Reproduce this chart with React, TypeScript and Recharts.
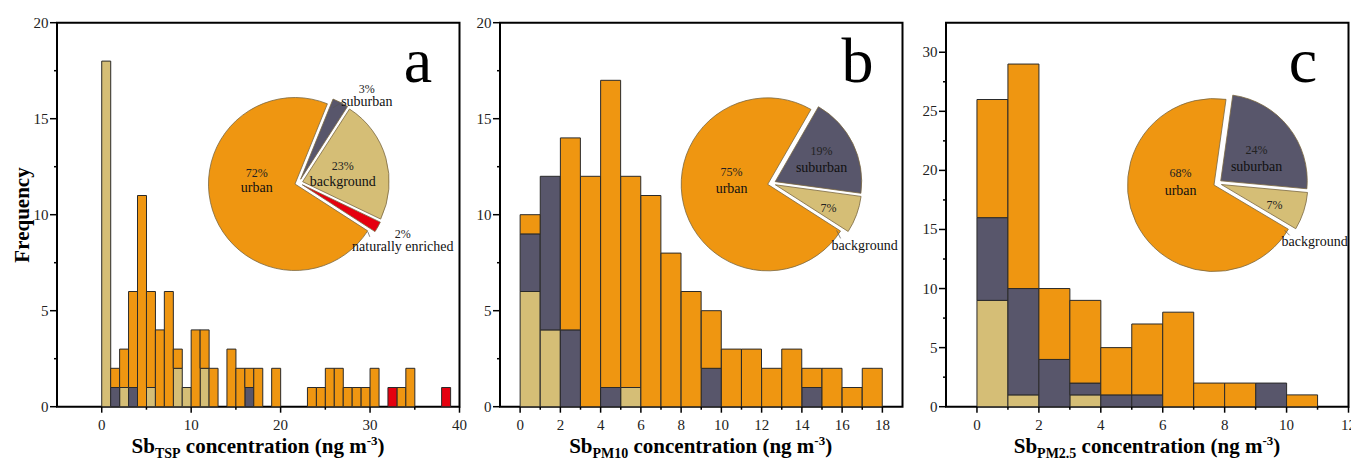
import React from "react";
import { BarChart, Bar, XAxis, YAxis, ReferenceArea, PieChart, Pie, Cell } from "recharts";

const FONT = "Liberation Serif, Times New Roman, DejaVu Serif, serif";

const COLORS: Record<string, string> = {
  background: "#D5BE76",
  suburban: "#58566B",
  urban: "#EF9611",
  "naturally enriched": "#E5000F",
};

// ---- panel a: Sb TSP (bin width 1 ng m-3), stacked visible segment counts
const binsA = [0, 1, 2, 3, 4, 5, 6, 7, 8, 9, 10, 11, 12, 13, 14, 15, 16, 17, 18, 19, 20, 21, 22, 23, 24, 25, 26, 27, 28, 29, 30, 31, 32, 33, 34, 35, 36, 37, 38, 39];
const bgA = [18, 0, 1, 0, 0, 1, 0, 0, 2, 1, 0, 2, 0, 0, 0, 0, 0, 0, 0, 0, 0, 0, 0, 0, 0, 0, 0, 0, 0, 0, 0, 0, 0, 0, 0, 0, 0, 0, 0, 0];
const subA = [0, 1, 0, 1, 0, 0, 0, 0, 0, 0, 0, 0, 0, 0, 0, 0, 1, 0, 0, 0, 0, 0, 0, 0, 0, 0, 0, 0, 0, 0, 0, 0, 0, 0, 0, 0, 0, 0, 0, 0];
const urbA = [0, 1, 2, 5, 11, 5, 4, 6, 1, 0, 4, 2, 2, 0, 3, 2, 1, 2, 0, 2, 0, 0, 0, 1, 1, 2, 2, 1, 1, 1, 2, 0, 0, 1, 2, 0, 0, 0, 0, 0];
const natA = [0, 0, 0, 0, 0, 0, 0, 0, 0, 0, 0, 0, 0, 0, 0, 0, 0, 0, 0, 0, 0, 0, 0, 0, 0, 0, 0, 0, 0, 0, 0, 0, 1, 0, 0, 0, 0, 0, 1, 0];

// ---- panel b: Sb PM10
const binsB = [0, 1, 2, 3, 4, 5, 6, 7, 8, 9, 10, 11, 12, 13, 14, 15, 16, 17];
const bgB = [6, 4, 0, 0, 0, 1, 0, 0, 0, 0, 0, 0, 0, 0, 0, 0, 0, 0];
const subB = [3, 8, 4, 0, 1, 0, 0, 0, 0, 2, 0, 0, 0, 0, 1, 0, 0, 0];
const urbB = [1, 0, 10, 12, 16, 11, 11, 8, 6, 3, 3, 3, 2, 3, 1, 2, 1, 2];

// ---- panel c: Sb PM2.5
const binsC = [0, 1, 2, 3, 4, 5, 6, 7, 8, 9, 10];
const bgC = [9, 1, 0, 1, 0, 0, 0, 0, 0, 0, 0];
const subC = [7, 9, 4, 1, 1, 1, 0, 0, 0, 2, 0];
const urbC = [10, 19, 6, 7, 4, 6, 8, 2, 2, 0, 1];

// pie shares (%), clockwise from the first slice
const pieNamesA = ["suburban", "background", "naturally enriched", "urban"];
const pieValuesA = [3, 23, 2, 72];
const pieNamesB = ["suburban", "background", "urban"];
const pieValuesB = [19, 7, 75];
const pieNamesC = ["suburban", "background", "urban"];
const pieValuesC = [24, 7, 68];

const tableA = binsA.map((b, i) => ({ x: b + 0.5, background: bgA[i], suburban: subA[i], urban: urbA[i], natural: natA[i] }));
const tableB = binsB.map((b, i) => ({ x: b + 0.5, background: bgB[i], suburban: subB[i], urban: urbB[i], natural: 0 }));
const tableC = binsC.map((b, i) => ({ x: b + 0.5, background: bgC[i], suburban: subC[i], urban: urbC[i], natural: 0 }));

const STACK = [
  { key: "background", color: COLORS.background },
  { key: "suburban", color: COLORS.suburban },
  { key: "urban", color: COLORS.urban },
  { key: "natural", color: COLORS["naturally enriched"] },
];

const PLOT_W = 402.5;
const PLOT_TOP = 22.7;
const PLOT_BOTTOM = 406.7;

function XTick(props: any) {
  const { x, y, payload, major } = props;
  const isMajor = major.includes(payload.value);
  return (
    <g>
      <line x1={x} x2={x} y1={y} y2={y + (isMajor ? 6 : 3)} stroke="#000" strokeWidth={1.5} />
      {isMajor && (
        <text x={x} y={y + 18} textAnchor="middle" dominantBaseline="central" style={{ fontFamily: FONT, fontSize: 15 }} fill="#222">
          {payload.value}
        </text>
      )}
    </g>
  );
}

function YTick(props: any) {
  const { x, y, payload, major } = props;
  const isMajor = major.includes(payload.value);
  return (
    <g>
      <line x1={x} x2={x - (isMajor ? 7 : 3)} y1={y} y2={y} stroke="#000" strokeWidth={1.5} />
      {isMajor && (
        <text x={x - 8.5} y={y} textAnchor="end" dominantBaseline="central" style={{ fontFamily: FONT, fontSize: 15 }} fill="#222">
          {payload.value}
        </text>
      )}
    </g>
  );
}

function Histogram({ plotLeft, data, xDomain, xTicks, xMinor, yDomain, yTicks, yMinor }: any) {
  return (
    <div style={{ position: "absolute", left: plotLeft - 50, top: 0 }}>
      <BarChart
        width={50 + PLOT_W + 12}
        height={464}
        data={data}
        margin={{ top: PLOT_TOP, right: 12, bottom: 464 - PLOT_BOTTOM - 30, left: 10 }}
        barCategoryGap={0}
        barGap={0}
      >
        <XAxis
          type="number"
          dataKey="x"
          domain={xDomain}
          ticks={[...xTicks, ...xMinor]}
          interval={0}
          allowDataOverflow
          axisLine={false}
          tickLine={false}
          tickSize={0}
          tickMargin={0}
          height={30}
          tick={<XTick major={xTicks} />}
        />
        <YAxis
          type="number"
          domain={yDomain}
          ticks={[...yTicks, ...yMinor]}
          interval={0}
          allowDataOverflow
          axisLine={false}
          tickLine={false}
          tickSize={0}
          tickMargin={0}
          width={40}
          tick={<YTick major={yTicks} />}
        />
        {STACK.map((s) => (
          <Bar key={s.key} dataKey={s.key} stackId="h" fill={s.color} stroke="#2a2a2a" strokeWidth={1} isAnimationActive={false} />
        ))}
        <ReferenceArea
          x1={xDomain[0]}
          x2={xDomain[1]}
          y1={yDomain[0]}
          y2={yDomain[1]}
          fill="none"
          fillOpacity={0}
          stroke="#000"
          strokeWidth={2}
          ifOverflow="visible"
        />
      </BarChart>
    </div>
  );
}

// label offsets relative to each pie's centre
const LABELS_A: Record<string, any> = {
  urban: { pct: [-42, -10], name: [-42, 5] },
  background: { pct: [44, -17], name: [44, -1] },
  suburban: { pct: [68, -94], name: [68, -81], line: [34, -75, 44, -81] },
  "naturally enriched": { pct: [104, 51], name: [104, 64], line: [69, 49, 71, 54] },
};
const LABELS_B: Record<string, any> = {
  urban: { pct: [-40, -11], name: [-40, 5] },
  suburban: { pct: [50, -32], name: [50, -16] },
  background: { pct: [57, 25], name: [93, 62], line: [65, 47, 69, 55] },
};
const LABELS_C: Record<string, any> = {
  urban: { pct: [-37, -10], name: [-37, 7] },
  suburban: { pct: [39, -33], name: [39, -17] },
  background: { pct: [57, 22], name: [97, 58], line: [67, 47, 72, 52] },
};

const EXPLODE = 4;
const RADIUS = 86.5;

function pieSlices(id: string, names: string[], values: number[], cx: number, cy: number, start: number, labels: Record<string, any>) {
  const total = values.reduce((a, b) => a + b, 0);
  let angle = start;
  return names.map((name, i) => {
    const span = (values[i] / total) * 360;
    const a0 = angle;
    const a1 = angle - span;
    angle = a1;
    const mid = ((a0 + a1) / 2) * (Math.PI / 180);
    const ox = EXPLODE * Math.cos(mid);
    const oy = -EXPLODE * Math.sin(mid);
    const lab = labels[name];
    const renderLabel = () => (
      <g>
        {lab.line && (
          <line x1={cx + lab.line[0]} y1={cy + lab.line[1]} x2={cx + lab.line[2]} y2={cy + lab.line[3]} stroke="#555" strokeWidth={0.7} />
        )}
        <text x={cx + lab.pct[0]} y={cy + lab.pct[1]} textAnchor="middle" dominantBaseline="central" style={{ fontFamily: FONT, fontSize: 12 }} fill="#222">
          {values[i]}%
        </text>
        <text x={cx + lab.name[0]} y={cy + lab.name[1]} textAnchor="middle" dominantBaseline="central" style={{ fontFamily: FONT, fontSize: 14 }} fill="#111">
          {name}
        </text>
      </g>
    );
    return (
      <Pie
        key={id + name}
        data={[{ name, value: values[i] }]}
        dataKey="value"
        cx={cx + ox}
        cy={cy + oy}
        outerRadius={RADIUS}
        startAngle={a0}
        endAngle={a1}
        stroke="#7a6740"
        strokeWidth={0.8}
        label={renderLabel}
        labelLine={false}
        isAnimationActive={false}
      >
        <Cell fill={COLORS[name]} />
      </Pie>
    );
  });
}

const titleStyle = { fontFamily: FONT, fontSize: 21, fontWeight: 700 };

export default function App() {
  return (
    <div style={{ position: "absolute", left: 0, top: 0, width: 1351, height: 464, overflow: "hidden", background: "#fff" }}>
      <Histogram
        plotLeft={56.7}
        data={tableA}
        xDomain={[-5, 40]}
        xTicks={[0, 10, 20, 30, 40]}
        xMinor={[5, 15, 25, 35]}
        yDomain={[0, 20]}
        yTicks={[0, 5, 10, 15, 20]}
        yMinor={[2.5, 7.5, 12.5, 17.5]}
      />
      <Histogram
        plotLeft={499.5}
        data={tableB}
        xDomain={[-1, 19]}
        xTicks={[0, 2, 4, 6, 8, 10, 12, 14, 16, 18]}
        xMinor={[1, 3, 5, 7, 9, 11, 13, 15, 17]}
        yDomain={[0, 20]}
        yTicks={[0, 5, 10, 15, 20]}
        yMinor={[2.5, 7.5, 12.5, 17.5]}
      />
      <Histogram
        plotLeft={946}
        data={tableC}
        xDomain={[-1, 12]}
        xTicks={[0, 2, 4, 6, 8, 10, 12]}
        xMinor={[1, 3, 5, 7, 9, 11]}
        yDomain={[0, 32.5]}
        yTicks={[0, 5, 10, 15, 20, 25, 30]}
        yMinor={[2.5, 7.5, 12.5, 17.5, 22.5, 27.5]}
      />

      <div style={{ position: "absolute", left: 0, top: 0 }}>
        <PieChart width={1351} height={464} margin={{ top: 0, right: 0, bottom: 0, left: 0 }}>
          {pieSlices("a", pieNamesA, pieValuesA, 298.8, 182.8, 68, LABELS_A)}
          {pieSlices("b", pieNamesB, pieValuesB, 771.6, 183.4, 60, LABELS_B)}
          {pieSlices("c", pieNamesC, pieValuesC, 1217.6, 183.3, 82, LABELS_C)}
        </PieChart>
      </div>

      <svg width={1351} height={464} style={{ position: "absolute", left: 0, top: 0, pointerEvents: "none" }}>
        <text x={418} y={81.5} textAnchor="middle" style={{ fontFamily: FONT, fontSize: 64 }}>a</text>
        <text x={857.5} y={81.5} textAnchor="middle" style={{ fontFamily: FONT, fontSize: 64 }}>b</text>
        <text x={1303} y={81.5} textAnchor="middle" style={{ fontFamily: FONT, fontSize: 64 }}>c</text>
        <text x={22} y={215} transform="rotate(-90 22 215)" textAnchor="middle" dominantBaseline="central" style={titleStyle}>
          Frequency
        </text>
        <text x={258} y={453} textAnchor="middle" style={titleStyle}>
          Sb<tspan fontSize={14} dy={5}>TSP</tspan>
          <tspan dy={-5}> concentration (ng m</tspan>
          <tspan fontSize={13} dy={-8}>-3</tspan>
          <tspan dy={8}>)</tspan>
        </text>
        <text x={700.7} y={453} textAnchor="middle" style={titleStyle}>
          Sb<tspan fontSize={14} dy={5}>PM10</tspan>
          <tspan dy={-5}> concentration (ng m</tspan>
          <tspan fontSize={13} dy={-8}>-3</tspan>
          <tspan dy={8}>)</tspan>
        </text>
        <text x={1147} y={453} textAnchor="middle" style={titleStyle}>
          Sb<tspan fontSize={14} dy={5}>PM2.5</tspan>
          <tspan dy={-5}> concentration (ng m</tspan>
          <tspan fontSize={13} dy={-8}>-3</tspan>
          <tspan dy={8}>)</tspan>
        </text>
      </svg>
    </div>
  );
}
